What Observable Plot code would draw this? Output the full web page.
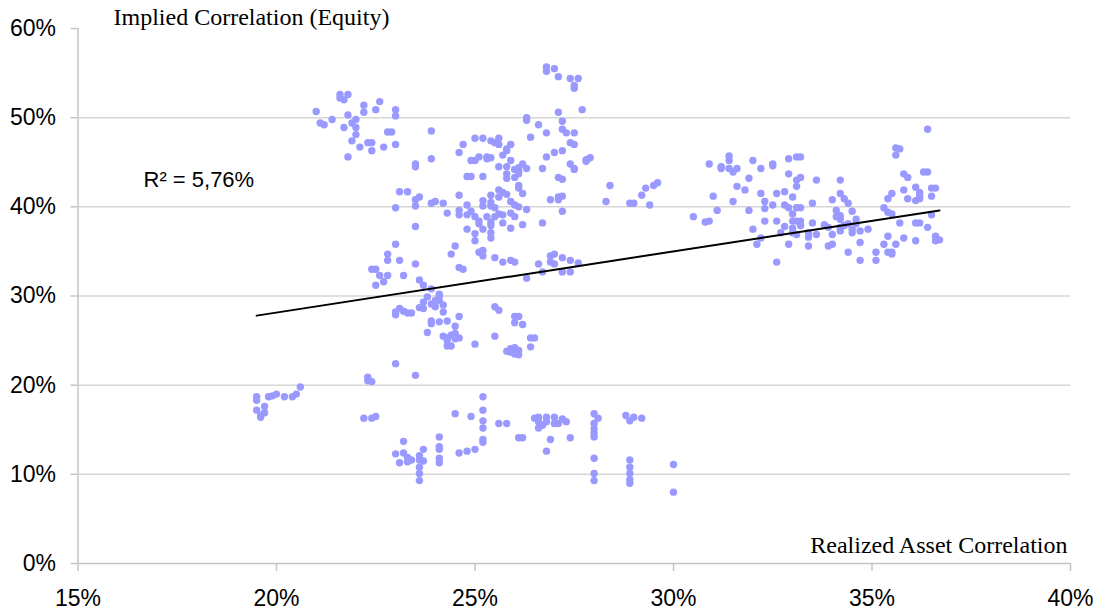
<!DOCTYPE html>
<html><head><meta charset="utf-8">
<script src="https://cdn.jsdelivr.net/npm/d3@7"></script>
<script src="https://cdn.jsdelivr.net/npm/@observablehq/plot@0.6"></script>
<style>body{margin:0;background:#fff} svg{display:block}</style>
</head><body><div id="chart"></div>
<script>
// Realized asset correlation (%) — x values
const realized = [
21.6,21.8,21.6,21.7,21.0,22.2,22.2,22.6,22.5,23.0,
23.0,21.8,22.0,21.9,22.0,21.4,21.1,21.2,21.7,22.8,
22.9,23.9,22.0,21.9,22.3,22.4,22.1,22.4,22.7,23.0,
21.8,24.7,24.6,23.9,23.5,23.5,24.9,24.8,23.1,23.3,
23.6,23.5,23.5,23.0,23.9,24.0,24.2,24.3,24.6,24.6,
24.8,24.6,24.8,24.8,23.5,23.0,24.5,24.4,22.8,23.1,
22.8,26.8,26.8,27.0,27.1,27.4,27.6,27.5,27.5,27.1,
27.7,26.3,26.3,27.2,26.6,26.8,27.2,27.3,27.5,26.4,
27.4,27.5,27.2,27.0,26.8,27.8,27.8,27.9,27.4,27.5,
27.5,26.7,27.1,27.2,28.4,28.3,28.9,29.0,29.2,29.3,
29.5,29.6,29.4,26.9,27.1,27.2,27.1,27.2,26.7,26.2,
26.3,26.2,26.1,26.1,25.0,25.2,25.4,25.5,25.6,25.6,
25.9,25.8,25.8,25.7,25.9,25.1,25.3,25.4,25.3,25.0,
25.6,25.8,26.0,26.1,26.2,26.3,24.9,25.2,25.8,25.8,
26.0,26.1,26.1,25.4,25.6,25.7,25.6,25.8,25.2,25.4,
25.2,25.4,25.5,25.9,26.0,26.1,24.9,25.0,25.1,25.1,
25.2,25.3,25.4,25.5,25.6,25.7,25.4,25.7,25.9,26.0,
25.9,25.0,25.0,25.4,25.4,25.1,25.2,25.2,25.5,25.7,
25.9,26.0,26.6,26.9,27.0,27.2,26.9,27.0,27.4,27.6,
24.6,24.7,23.5,22.4,22.5,22.6,22.8,22.7,22.5,23.2,
23.6,23.7,23.9,23.8,24.1,24.1,24.0,24.1,23.7,23.9,
24.0,24.2,23.6,23.7,24.2,23.0,23.1,23.0,23.2,23.3,
23.4,24.6,23.9,23.9,24.1,24.3,23.8,24.5,24.2,24.3,
24.4,24.5,24.5,24.6,24.3,24.4,24.3,23.0,23.5,22.3,
22.3,22.4,20.6,19.5,19.5,19.7,19.5,19.6,19.7,19.6,
19.8,19.9,20.0,20.2,20.4,20.5,22.2,22.4,22.5,24.5,
24.9,23.2,23.0,23.2,23.1,23.3,23.4,23.3,23.6,23.7,
23.6,23.7,24.1,24.1,24.1,24.1,24.1,23.6,23.6,23.6,
24.6,24.8,26.3,26.7,27.2,27.4,25.5,25.6,26.0,26.1,
26.0,26.2,25.0,25.5,25.8,25.9,26.0,26.1,26.0,25.9,
26.1,26.4,26.5,26.4,25.2,25.2,25.2,25.2,25.2,25.2,
25.6,25.8,26.1,26.2,26.5,26.6,26.8,27.0,26.6,26.8,
27.0,26.7,26.6,27.1,27.2,27.3,26.9,26.8,27.4,28.0,
28.1,28.0,28.0,28.0,28.0,28.0,28.0,28.0,28.8,29.0,
28.9,29.2,28.9,28.9,28.9,28.9,28.9,30.0,30.0,25.0,
30.9,31.4,31.4,31.2,31.2,31.4,31.5,31.6,32.0,32.2,
32.5,32.5,32.9,33.1,33.2,32.9,33.1,33.2,33.1,33.6,
34.2,31.9,31.6,31.8,31.0,31.5,32.2,32.3,32.3,32.5,
32.6,32.8,33.0,32.8,32.9,33.1,33.2,33.5,34.0,34.2,
34.3,34.4,31.1,31.9,30.5,30.8,30.9,32.3,32.6,33.0,
33.1,33.0,33.2,33.5,34.1,34.2,34.2,34.1,34.5,34.6,
34.6,32.0,32.8,33.0,33.2,33.0,33.1,32.7,32.2,32.1,
32.9,33.4,33.4,33.6,33.4,33.8,33.9,34.0,33.9,34.0,
34.2,34.3,34.5,34.5,34.4,34.2,34.7,34.9,34.7,34.4,
34.7,35.1,35.1,32.6,35.4,35.5,35.3,35.4,35.5,35.6,
35.7,35.6,35.8,35.9,35.8,35.9,36.1,36.1,36.2,36.2,
36.2,35.7,36.1,36.2,35.4,35.3,35.6,35.4,35.5,35.5,
35.8,36.1,36.4,36.3,36.4,36.6,36.5,36.5,36.5,36.4,
36.6,36.6,36.7
];
// Implied correlation (equity, %) — y values
const implied = [
52.6,52.6,52.2,52.0,50.7,51.4,50.6,51.8,50.9,50.9,
50.2,50.3,49.8,49.4,48.9,49.8,49.4,49.2,48.9,48.4,
48.4,48.5,48.1,47.4,47.2,47.2,46.7,46.3,46.7,47.0,
45.6,47.0,46.1,45.4,44.8,44.5,45.2,43.4,41.7,41.7,
41.1,40.8,40.1,39.9,40.4,40.6,40.4,39.3,41.3,39.6,
40.2,39.1,39.1,37.5,37.8,35.8,35.6,34.7,34.7,34.0,
34.0,55.7,55.2,55.5,54.6,54.4,54.4,53.6,53.3,50.6,
50.9,50.0,49.7,49.6,49.2,48.3,48.7,48.3,48.3,47.8,
47.2,47.0,46.3,46.1,45.6,45.1,45.3,45.5,44.8,44.3,
44.2,44.3,43.3,43.1,42.4,40.6,40.4,40.4,41.3,42.1,
42.4,42.7,40.2,40.8,41.1,41.2,40.8,39.5,38.2,38.0,
39.7,41.5,42.4,42.1,47.7,47.7,47.4,47.2,47.0,47.7,
47.0,46.5,46.3,45.8,45.2,45.6,45.6,45.5,45.4,45.2,
44.5,44.5,44.2,44.4,44.8,44.3,43.4,43.4,43.7,43.2,
43.3,43.7,44.0,41.3,41.9,41.6,41.1,41.4,40.7,40.5,
40.1,40.1,39.9,40.6,40.2,40.0,39.5,38.9,38.4,38.1,
37.5,38.9,38.3,38.9,39.2,39.1,37.9,38.2,39.3,38.9,
37.6,37.0,36.2,37.1,36.5,34.9,35.1,34.5,34.3,33.8,
34.0,33.8,33.6,34.5,34.7,34.3,33.8,33.6,34.0,33.7,
33.2,33.0,33.6,33.0,33.0,32.3,32.3,31.6,31.2,32.3,
31.8,31.2,30.8,29.9,30.0,30.2,29.5,29.5,29.3,29.1,
28.8,29.0,28.7,28.6,28.2,28.2,28.6,27.9,28.3,28.1,
28.1,27.7,27.2,26.9,27.1,27.2,25.9,26.6,25.5,25.3,
25.6,25.2,25.8,25.3,24.4,24.4,25.0,22.4,21.1,20.9,
20.5,20.4,19.8,18.7,18.3,17.6,17.2,16.6,16.9,16.4,
18.7,18.8,19.0,18.7,18.7,19.0,16.3,16.3,16.5,16.8,
16.5,13.7,12.3,12.4,11.3,11.9,11.6,11.4,12.1,12.8,
11.6,11.5,14.2,13.1,12.8,11.8,11.3,10.8,10.1,9.3,
12.4,12.6,32.0,32.7,32.7,32.7,28.8,28.4,27.7,27.7,
27.0,26.8,24.6,25.5,23.8,24.1,24.2,23.9,23.5,23.7,
23.4,25.3,25.3,24.3,18.7,17.2,16.0,15.2,13.9,13.6,
15.7,15.7,14.1,14.1,16.3,16.4,16.4,16.4,15.9,15.9,
15.7,15.5,15.2,15.7,16.2,15.9,13.9,12.6,14.1,16.8,
16.3,15.7,15.1,14.6,14.2,11.8,10.1,9.3,16.6,16.4,
16.0,16.3,11.6,10.8,10.1,9.4,9.0,11.1,8.0,12.8,
44.8,45.7,45.2,44.5,44.3,44.3,43.9,44.3,45.2,44.3,
44.8,44.6,45.4,45.6,45.6,43.7,43.0,43.3,42.3,43.0,
43.0,43.2,42.3,41.9,41.2,40.6,41.5,40.6,39.8,40.2,
41.5,41.7,41.1,40.2,39.9,39.9,39.9,40.4,40.8,41.5,
40.9,40.4,39.6,39.6,38.9,38.3,38.4,38.4,38.4,39.2,
38.4,38.4,38.4,38.2,39.6,39.0,38.6,38.9,39.5,38.6,
38.1,37.5,37.8,37.6,37.9,37.1,36.9,37.1,36.5,35.8,
35.8,37.1,36.6,36.9,35.6,38.0,37.7,36.9,35.6,35.8,
37.7,37.9,37.5,37.1,38.1,37.3,37.3,37.5,36.0,34.9,
34.0,34.9,34.0,33.8,40.9,41.5,39.9,39.4,39.2,46.6,
46.5,45.8,43.7,43.3,41.9,40.9,40.7,42.2,41.6,41.2,
40.9,38.2,38.2,38.2,36.7,35.8,35.8,34.9,34.7,34.9,
36.5,36.2,48.7,43.9,43.9,42.1,42.1,41.2,39.1,37.7,
36.7,36.2,36.3
];
// Linear trend line endpoints
const trendRealized = [19.5, 36.7];
const trendImplied = [27.8, 39.6];
const xTicks = [15, 20, 25, 30, 35, 40];
const yTicks = [0, 10, 20, 30, 40, 50, 60];
const gridLevels = [10, 20, 30, 40, 50];
const rSquaredLabel = "R² = 5,76%";
const yTitle = "Implied Correlation (Equity)";
const xTitle = "Realized Asset Correlation";

const points = realized.map((x, i) => ({x, y: implied[i]}));
const trend = trendRealized.map((x, i) => ({x, y: trendImplied[i]}));
const pct = d => d + "%";
const sans = "'Liberation Sans', Arial, Helvetica, sans-serif";
const serif = "'Liberation Serif', 'Times New Roman', serif";

const chart = Plot.plot({
  width: 1099,
  height: 614,
  marginLeft: 77.5,
  marginRight: 29,
  marginTop: 28,
  marginBottom: 51,
  style: {fontFamily: sans, background: "#fff", color: "#000"},
  x: {domain: [15, 40]},
  y: {domain: [0, 60]},
  marks: [
    Plot.ruleY(gridLevels, {stroke: "#d6d6d6", strokeWidth: 1.5}),
    Plot.ruleX([15], {stroke: "#c4c4c4", strokeWidth: 1.5}),
    Plot.ruleY([0], {stroke: "#c4c4c4", strokeWidth: 1.5}),
    Plot.axisY(yTicks, {tickSize: 7, tickPadding: 15, tickFormat: pct, fontSize: 23, stroke: "#c4c4c4", strokeWidth: 1.5, label: null}),
    Plot.axisX(xTicks, {tickSize: 8, tickPadding: 18, tickFormat: pct, fontSize: 23, stroke: "#c4c4c4", strokeWidth: 1.5, label: null}),
    Plot.dot(points, {x: "x", y: "y", r: 3.7, fill: "#9999ff", stroke: null}),
    Plot.line(trend, {x: "x", y: "y", stroke: "#000", strokeWidth: 2}),
    Plot.text([rSquaredLabel], {text: d => d, frameAnchor: "top-left", dx: 65.5, dy: 143, textAnchor: "start", fontSize: 22, fill: "#000"}),
    Plot.text([yTitle], {text: d => d, frameAnchor: "top-left", dx: 35.5, dy: -21, textAnchor: "start", fontFamily: serif, fontSize: 24, fill: "#000"}),
    Plot.text([xTitle], {text: d => d, frameAnchor: "bottom-right", dx: -3, dy: -11, textAnchor: "end", fontFamily: serif, fontSize: 24, fill: "#000"})
  ]
});
document.getElementById("chart").append(chart);
</script>
</body></html>
